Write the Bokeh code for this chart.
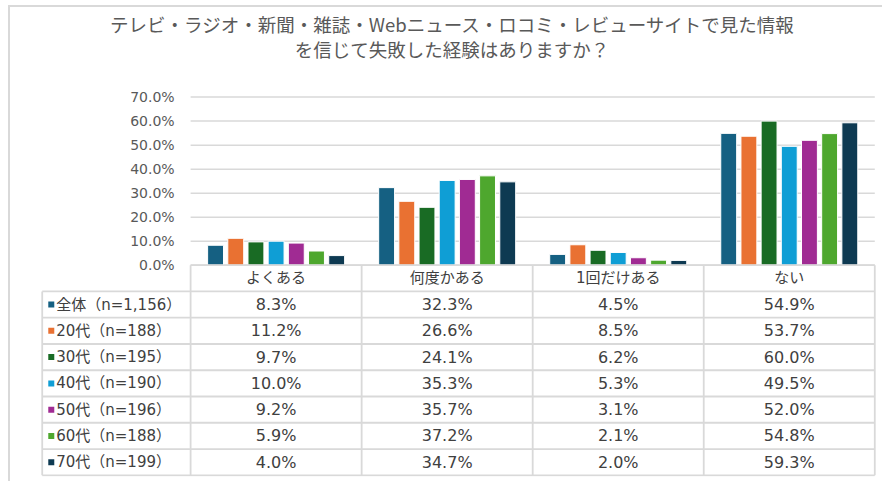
from bokeh.plotting import figure
from bokeh.models import (Range1d, FixedTicker, PrintfTickFormatter, LinearAxis,
                          ColumnDataSource, Div)
from bokeh.transform import dodge
from bokeh.layouts import column
from bokeh.core.properties import value
from bokeh.embed import file_html
from bokeh.resources import INLINE

# ---------------- data ----------------
title_lines = ["テレビ・ラジオ・新聞・雑誌・Webニュース・ロコミ・レビューサイトで見た情報",
               "を信じて失敗した経験はありますか？"]
categories = ["よくある", "何度かある", "1回だけある", "ない"]
series_names = ["全体（n=1,156）", "20代（n=188）", "30代（n=195）", "40代（n=190）",
                "50代（n=196）", "60代（n=188）", "70代（n=199）"]
s_all = [8.3, 32.3, 4.5, 54.9]
s_20 = [11.2, 26.6, 8.5, 53.7]
s_30 = [9.7, 24.1, 6.2, 60.0]
s_40 = [10.0, 35.3, 5.3, 49.5]
s_50 = [9.2, 35.7, 3.1, 52.0]
s_60 = [5.9, 37.2, 2.1, 54.8]
s_70 = [4.0, 34.7, 2.0, 59.3]
series_values = [s_all, s_20, s_30, s_40, s_50, s_60, s_70]
colors = ["#156082", "#E97132", "#196B24", "#0F9ED5", "#A02B93", "#4EA72E", "#0E3A52"]
y_ticks = [0, 10, 20, 30, 40, 50, 60, 70]

JP = "Noto Sans CJK JP"
MIX = "'DejaVu Sans', 'Noto Sans CJK JP'"
GRID = "#d9d9d9"
TXT = "#404040"
AX = "#595959"

FIG_W = 872
LEGEND_W = 149 / 171.75      # width of the table's label column, in category units
ROW_H = 26.25 / 2.4          # table row height, in y (percent) units
ncat = len(categories)
n = len(series_values)
nrow = n + 1

# ---------------- title ----------------
title_div = Div(
    text=('<div style="width:%dpx;box-sizing:border-box;padding-left:12px;padding-top:5px;'
          'text-align:center;font-family:\'%s\';font-size:18.5px;line-height:25px;color:%s;">%s</div>'
          % (FIG_W, JP, AX, "<br>".join(title_lines))),
    width=FIG_W, height=60, margin=(0, 0, 0, 0))

# ---------------- one figure: bars above y=0, data table below ----------------
p = figure(width=FIG_W, height=414,
           x_range=Range1d(-LEGEND_W - 0.01, ncat + 0.01),
           y_range=Range1d(-nrow * ROW_H - 0.5, 74),
           x_axis_location=None, y_axis_location=None,
           output_backend="svg", toolbar_location=None,
           min_border_left=30, min_border_right=6, min_border_top=20, min_border_bottom=5,
           margin=(0, 0, 0, 0))
p.outline_line_color = None
p.grid.grid_line_color = None

yaxis = LinearAxis(fixed_location=0, ticker=FixedTicker(ticks=y_ticks),
                   formatter=PrintfTickFormatter(format="%.1f%%"))
yaxis.axis_line_color = None
yaxis.major_tick_line_color = None
yaxis.minor_tick_line_color = None
yaxis.major_label_standoff = 10
yaxis.major_label_text_font = MIX
yaxis.major_label_text_font_size = "14px"
yaxis.major_label_text_color = AX
p.add_layout(yaxis, "left")

# horizontal value gridlines (only over the bar area)
p.segment(x0=[0] * len(y_ticks), x1=[ncat] * len(y_ticks), y0=y_ticks, y1=y_ticks,
          line_color=GRID, line_width=1.5)

# bars
data = {"cx": [c + 0.5 for c in range(ncat)]}
for i, vals in enumerate(series_values):
    data["s%d" % i] = vals
src = ColumnDataSource(data)
step = 0.118
bw = 0.093
for i in range(n):
    off = (i - (n - 1) / 2) * step
    p.vbar(x=dodge("cx", off), top="s%d" % i, width=bw, source=src,
           fill_color=colors[i], line_color="white", line_width=1)

# table grid lines
x0s, y0s, x1s, y1s = [], [], [], []
for r in range(nrow + 1):
    x0s.append(0 if r == 0 else -LEGEND_W); x1s.append(ncat)
    y0s.append(-r * ROW_H); y1s.append(-r * ROW_H)
for c in range(ncat + 1):
    x0s.append(c); x1s.append(c); y0s.append(0); y1s.append(-nrow * ROW_H)
x0s.append(-LEGEND_W); x1s.append(-LEGEND_W); y0s.append(-ROW_H); y1s.append(-nrow * ROW_H)
p.segment(x0=x0s, y0=y0s, x1=x1s, y1=y1s, line_color=GRID, line_width=1.8)

# header
p.text(x=[c + 0.5 for c in range(ncat)], y=[-0.5 * ROW_H] * ncat, text=categories,
       text_align="center", text_baseline="middle", text_font=value(MIX),
       text_font_size="15px", text_color=TXT)

# values
vx, vy, vt = [], [], []
for i, vals in enumerate(series_values):
    for c, v in enumerate(vals):
        vx.append(c + 0.5); vy.append(-(i + 1.5) * ROW_H); vt.append("%.1f%%" % v)
p.text(x=vx, y=vy, text=vt, text_align="center", text_baseline="middle",
       text_font=value(MIX), text_font_size="16px", text_color=TXT)

# legend keys and labels
rows_y = [-(i + 1.5) * ROW_H for i in range(n)]
p.scatter(x=[-LEGEND_W + 0.053] * n, y=rows_y, marker="square", size=6,
          fill_color=colors, line_color=None)
p.text(x=[-LEGEND_W] * n, y=rows_y, text=series_names, x_offset=14,
       text_align="left", text_baseline="middle", text_font=value(MIX),
       text_font_size="15px", text_color=TXT)

layout = column(title_div, p, spacing=0, margin=(5, 0, 0, 8),
                styles={"border-top": "2px solid #d9d9d9", "border-left": "2px solid #d9d9d9"})
open("out.html", "w").write(file_html(layout, INLINE))
